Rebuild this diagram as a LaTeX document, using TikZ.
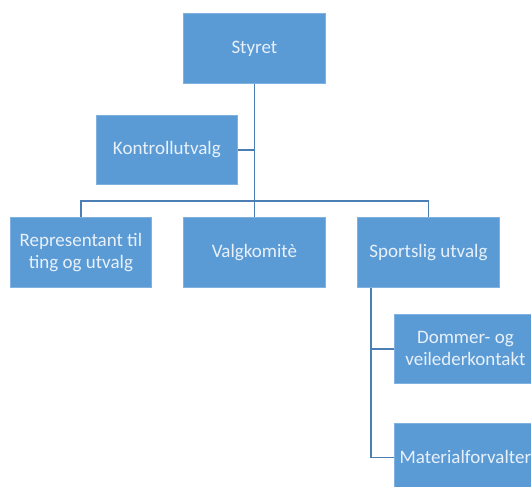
\documentclass[tikz,border=0pt]{standalone}
\usepackage{fontspec}
\setmainfont{Carlito}
\definecolor{boxfill}{HTML}{5B9BD5}
\definecolor{boxline}{HTML}{7FB2E0}
\definecolor{txt}{HTML}{E8F0FA}
\definecolor{conn}{HTML}{4A7EB5}
\begin{document}
\begin{tikzpicture}[x=1pt,y=-1pt,
  orgbox/.style={fill=boxfill,draw=boxline,line width=0.8pt,minimum width=142pt,minimum height=70pt,
    text=txt,font=\fontsize{19}{22}\selectfont,align=center,inner sep=2pt,anchor=north west},
  link/.style={draw=conn,line width=1.8pt}]
\useasboundingbox (0,0) rectangle (531,487);
\node[orgbox] (sty) at (183,13) {Styret};
\node[orgbox,minimum width=141pt,minimum height=69pt] (kon) at (96,115) {Kontrollutvalg};
\node[orgbox,minimum width=141pt] (rep) at (10,217) {Representant til\\ting og utvalg};
\node[orgbox] (val) at (183,217) {Valgkomitè};
\node[orgbox] (spo) at (357,217) {Sportslig utvalg};
\node[orgbox,minimum height=69pt] (dom) at (394,314) {Dommer- og\\veilederkontakt};
\node[orgbox,minimum height=68pt] (mat) at (394,423) {Materialforvalter};
\coordinate (bar) at (254,201);
\coordinate (sbar) at (371,0);
\draw[link] (sty.south) -- (val.north);
\draw[link] (kon.east) -- (kon.east -| sty.south);
\draw[link] (rep.north) |- (bar) -| (spo.north);
\draw[link] (spo.south -| sbar) |- (dom.west);
\draw[link] (spo.south -| sbar) |- (mat.west);
\end{tikzpicture}
\end{document}
